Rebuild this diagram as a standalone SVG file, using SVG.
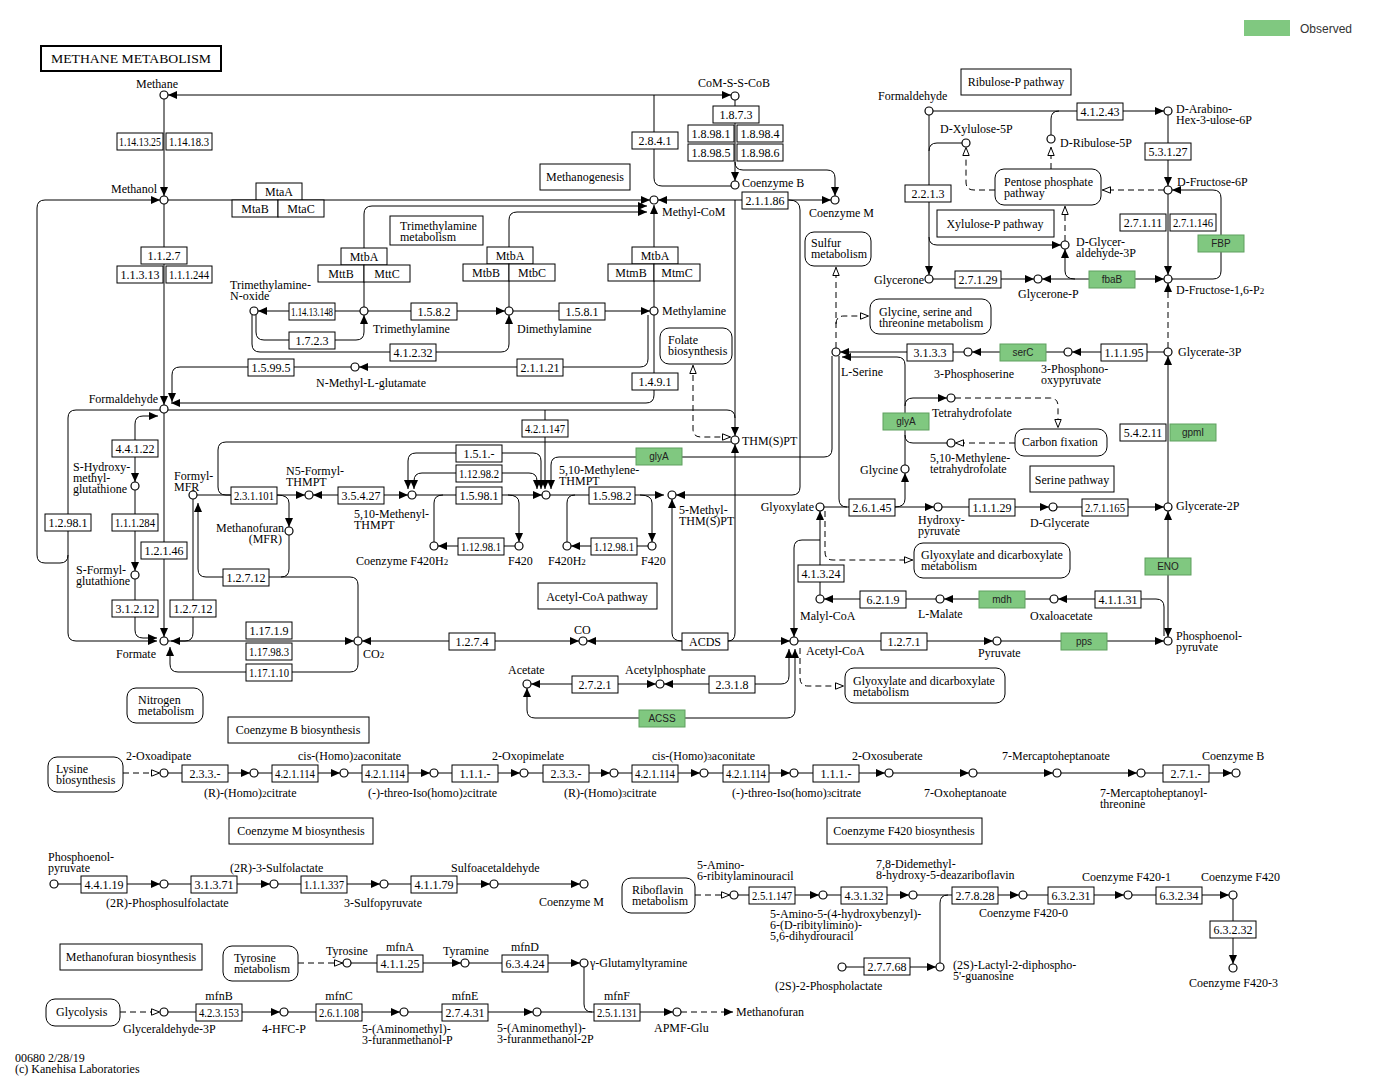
<svg xmlns="http://www.w3.org/2000/svg" width="1384" height="1080" viewBox="0 0 1384 1080">
<defs>
<marker id="fa" viewBox="0 0 9 8" refX="9" refY="4" markerWidth="9" markerHeight="8" markerUnits="userSpaceOnUse" orient="auto-start-reverse"><path d="M0,0 L9,4 L0,8 z" fill="#000"/></marker>
<marker id="oa" viewBox="0 0 9 8" refX="9" refY="4" markerWidth="9" markerHeight="8" markerUnits="userSpaceOnUse" orient="auto-start-reverse"><path d="M0.5,0.8 L8.5,4 L0.5,7.2 z" fill="#fff" stroke="#000" stroke-width="1"/></marker>
</defs>
<style>
text{font-family:"Liberation Serif","Times New Roman",serif;font-size:12px;fill:#000}
.e rect{fill:#fff;stroke:#000;stroke-width:1}
.e text{text-anchor:middle}
.g rect{fill:#80c880;stroke:#5f9f5f;stroke-width:1}
.g text{font-family:"Liberation Sans",Arial,sans-serif;font-size:10px;fill:#222;text-anchor:middle}
.c circle{fill:#fff;stroke:#000;stroke-width:1.2}
.m rect{fill:#fff;stroke:#000;stroke-width:1}
.w path{fill:none;stroke:#000;stroke-width:1}
.a{marker-end:url(#fa)}
.b{marker-start:url(#fa);marker-end:url(#fa)}
.o{marker-end:url(#oa)}
.ob{marker-start:url(#oa);marker-end:url(#oa)}
.d{stroke-dasharray:6,4}
.sb{font-size:9px}
</style>
<rect width="1384" height="1080" fill="#fff"/>
<g id="title"><rect x="41" y="46" width="180" height="25" fill="#fff" stroke="#000" stroke-width="2"/><text x="131" y="63" text-anchor="middle" font-size="13" textLength="160" lengthAdjust="spacingAndGlyphs">METHANE METABOLISM</text></g>
<g id="legend"><rect x="1244" y="20" width="46" height="16" fill="#80c880"/><text x="1300" y="33" style="font-family:'Liberation Sans',Arial,sans-serif;font-size:12px;fill:#333">Observed</text></g>

<g id="connectors" class="w">
<path class="b" d="M168,95 H731"/>
<path d="M654,95 V178 Q654,186 662,186 H731"/>
<path class="a" d="M164,99 V196"/>
<path class="a" d="M164,204 V405"/>
<path class="a" d="M168,200 H650"/>
<path class="a" d="M68,555 Q68,563 60,563 H45 Q37,563 37,555 V208 Q37,200 45,200 H160"/>
<path class="a" d="M164,413 V637"/>
<path class="a" d="M160,410 H76 Q68,410 68,418 V633 Q68,641 76,641 H157"/>
<path class="b" d="M158,416 H143 Q135,416 135,424 V482"/>
<path class="a" d="M135,490 V571"/>
<path class="a" d="M135,579 V630 Q135,638 143,638 H157"/>
<path class="a" d="M193,499 V633 Q193,641 185,641 H171"/>
<path class="a" d="M358,637 V585 Q358,577 350,577 H206 Q198,577 198,569 V503"/>
<path d="M281,577 Q289,577 289,569 V535"/>
<path class="a" d="M358,645 V664 Q358,672 350,672 H178 Q170,672 170,664 V647"/>
<path class="a" d="M168,641 H354"/>
<path class="b" d="M362,641 H579"/>
<path class="b" d="M587,641 H790"/>
<path class="a" d="M682,641 Q672,641 672,633 V499"/>
<path class="a" d="M728,641 Q735,641 735,633 V444"/>
<path class="a" d="M735,200 V436"/>
<path d="M168,410 H727 Q735,410 735,418"/>
<path class="a" d="M545,410 V489"/>
<path class="a" d="M654,315 V395 Q654,403 646,403 H171"/>
<path class="a" d="M351,367 H180 Q172,367 172,375 V402"/>
<path class="a" d="M648,315 V359 Q648,367 640,367 H359"/>
<path class="a" d="M360,311 H258"/>
<path class="a" d="M256,315 V332 Q256,340 264,340 H356 Q364,340 364,332 V315"/>
<path class="a" d="M252,315 V344 Q252,352 260,352 H501 Q509,352 509,344 V315"/>
<path class="a" d="M368,311 H505"/>
<path class="a" d="M513,311 H650"/>
<path class="a" d="M364,307 V214 Q364,206 372,206 H647"/>
<path class="a" d="M509,307 V220 Q509,212 517,212 H647"/>
<path class="a" d="M654,307 V205"/>
<path class="a" d="M735,100 V181"/>
<path class="a" d="M735,162 Q735,170 743,170 H827 Q835,170 835,178 V196"/>
<path class="b" d="M658,200 H831"/>
<path class="a" d="M789,200 Q800,200 800,210 V487 Q800,495 792,495 H676"/>
<path class="ob d" d="M693,365 V429 Q693,437 701,437 H731"/>
<path class="a" d="M197,495 H305"/>
<path class="a" d="M277,495 Q289,495 289,503 V527"/>
<path d="M231,495 H226 Q218,495 218,487 V450 Q218,442 226,442 H731"/>
<path class="b" d="M313,495 H408"/>
<path class="a" d="M416,495 H542"/>
<path d="M443,495 Q434,495 434,503 V542"/>
<path class="a" d="M508,495 Q519,495 519,503 V542"/>
<path class="a" d="M515,546 H438"/>
<path class="a" d="M456,453 H416 Q408,453 408,461 V489"/>
<path class="a" d="M502,453 H533 Q541,453 541,461 V489"/>
<path class="a" d="M456,473 H422 Q414,473 414,481 V489"/>
<path class="a" d="M502,473 H529 Q537,473 537,481 V489"/>
<path class="a" d="M832,356 V449 Q832,457 824,457 H559 Q551,457 551,465 V489"/>
<path class="a" d="M550,495 H664"/>
<path d="M575,495 Q567,495 567,503 V542"/>
<path class="a" d="M640,495 Q652,495 652,503 V542"/>
<path class="a" d="M648,546 H571"/>
<path class="a" d="M820,595 V511"/>
<path class="a" d="M820,540 H802 Q794,540 794,548 V637"/>
<path class="a" d="M936,599 H824"/>
<path class="a" d="M1050,599 H944"/>
<path class="a" d="M1164,636 V607 Q1164,599 1156,599 H1058"/>
<path class="a" d="M1001,641 H1164"/>
<path class="a" d="M798,641 H993"/>
<path class="b" d="M1168,637 V511"/>
<path class="a" d="M1168,503 V356"/>
<path class="a" d="M1057,507 H1164"/>
<path class="a" d="M942,507 H1049"/>
<path class="a" d="M824,507 H934"/>
<path d="M839,356 V499 Q839,507 847,507"/>
<path class="a" d="M895,507 Q905,507 905,499 V473"/>
<path class="o d" d="M825,511 V552 Q825,560 833,560 H913"/>
<path class="o d" d="M800,648 V678 Q800,686 808,686 H844"/>
<path class="b" d="M664,684 H781 Q789,684 789,676 V649"/>
<path class="b" d="M531,684 H656"/>
<path class="b" d="M527,688 V710 Q527,718 535,718 H787 Q795,718 795,710 V649"/>
<path class="a" d="M964,352 H840"/>
<path class="a" d="M1064,352 H972"/>
<path class="a" d="M1164,352 H1072"/>
<path class="a" d="M905,465 V365 Q905,357 897,357 H842"/>
<path class="a" d="M905,406 Q905,398 913,398 H947"/>
<path d="M905,435 Q905,443 913,443 H947"/>
<path class="o d" d="M955,398 H1050 Q1058,398 1058,406 V428"/>
<path class="o d" d="M1015,443 H955"/>
<path class="o d" d="M836,348 V267"/>
<path class="o d" d="M836,324 Q836,316 844,316 H869"/>
<path class="a d" d="M1168,348 V283"/>
<path class="b" d="M1042,279 H1164"/>
<path class="a" d="M1075,279 Q1065,279 1065,271 V249"/>
<path class="a" d="M933,279 H1034"/>
<path class="a" d="M929,115 V275"/>
<path d="M962,143 H937 Q929,143 929,151"/>
<path class="a" d="M929,237 Q929,245 937,245 H1061"/>
<path class="a" d="M933,111 H1164"/>
<path d="M1051,135 V119 Q1051,111 1059,111"/>
<path class="a" d="M1168,115 V186"/>
<path class="a" d="M1168,194 V275"/>
<path class="a" d="M1172,279 H1213 Q1221,279 1221,271 V198 Q1221,190 1213,190 H1172"/>
<path class="o d" d="M1164,190 H1102"/>
<path class="o d" d="M1065,241 V206"/>
<path class="o d" d="M1051,169 V147"/>
<path class="o d" d="M995,190 H974 Q966,190 966,182 V147"/>
<path class="o d" d="M123,773 H160"/>
<path class="a" d="M168,773 H250"/><path class="a" d="M258,773 H340"/><path class="a" d="M348,773 H430"/><path class="a" d="M438,773 H520"/><path class="a" d="M528,773 H610"/><path class="a" d="M618,773 H700"/><path class="a" d="M708,773 H790"/><path class="a" d="M798,773 H885"/><path class="a" d="M893,773 H969"/><path class="a" d="M977,773 H1053"/><path class="a" d="M1061,773 H1137"/><path class="a" d="M1145,773 H1232"/>
<path class="a" d="M58,884 H160"/><path class="a" d="M168,884 H270"/><path class="a" d="M278,884 H380"/><path class="a" d="M388,884 H490"/><path class="a" d="M498,884 H580"/>
<path class="o d" d="M298,963 H343"/>
<path class="a" d="M351,963 H461"/><path class="a" d="M469,963 H580"/>
<path class="o d" d="M120,1012 H160"/>
<path class="a" d="M168,1012 H280"/><path class="a" d="M288,1012 H400"/><path class="a" d="M408,1012 H533"/><path class="a" d="M541,1012 H673"/>
<path d="M584,967 V1004 Q584,1012 592,1012"/>
<path class="a d" d="M681,1012 H733"/>
<path class="o d" d="M695,895 H730"/>
<path class="a" d="M738,895 H819"/><path class="a" d="M827,895 H909"/><path class="a" d="M917,895 H1019"/><path class="a" d="M1027,895 H1124"/><path class="a" d="M1132,895 H1229"/>
<path class="a" d="M1233,899 V964"/>
<path class="a" d="M846,967 H936"/>
<path d="M940,963 V903 Q940,895 948,895"/>
</g>

<g id="maps">
<g id="m-methanogenesis" class="m"><rect x="540" y="164" width="90" height="26"/><text x="585" y="181" text-anchor="middle">Methanogenesis</text></g>
<g id="m-tma" class="m"><rect x="390" y="216" width="93" height="29"/><text x="400" y="230">Trimethylamine</text><text x="400" y="241">metabolism</text></g>
<g id="m-folate" class="m"><rect x="660" y="328" width="72" height="36" rx="9"/><text x="668" y="344">Folate</text><text x="668" y="355">biosynthesis</text></g>
<g id="m-sulfur" class="m"><rect x="805" y="232" width="66" height="34" rx="9"/><text x="811" y="247">Sulfur</text><text x="811" y="258">metabolism</text></g>
<g id="m-gly" class="m"><rect x="870" y="299" width="121" height="35" rx="9"/><text x="879" y="316">Glycine, serine and</text><text x="879" y="327">threonine metabolism</text></g>
<g id="m-ribulose" class="m"><rect x="961" y="69" width="110" height="26"/><text x="1016" y="86" text-anchor="middle">Ribulose-P pathway</text></g>
<g id="m-ppp" class="m"><rect x="995" y="169" width="106" height="36" rx="9"/><text x="1004" y="186">Pentose phosphate</text><text x="1004" y="197">pathway</text></g>
<g id="m-xylulose" class="m"><rect x="937" y="210" width="117" height="27"/><text x="995" y="228" text-anchor="middle">Xylulose-P pathway</text></g>
<g id="m-carbon" class="m"><rect x="1015" y="429" width="92" height="27" rx="9"/><text x="1022" y="446">Carbon fixation</text></g>
<g id="m-serine" class="m"><rect x="1030" y="466" width="84" height="26"/><text x="1072" y="484" text-anchor="middle">Serine pathway</text></g>
<g id="m-glyox1" class="m"><rect x="914" y="543" width="156" height="35" rx="9"/><text x="921" y="559">Glyoxylate and dicarboxylate</text><text x="921" y="570">metabolism</text></g>
<g id="m-glyox2" class="m"><rect x="845" y="668" width="160" height="35" rx="9"/><text x="853" y="685">Glyoxylate and dicarboxylate</text><text x="853" y="696">metabolism</text></g>
<g id="m-acetylcoa" class="m"><rect x="538" y="583" width="119" height="26"/><text x="597" y="601" text-anchor="middle">Acetyl-CoA pathway</text></g>
<g id="m-nitrogen" class="m"><rect x="127" y="688" width="76" height="35" rx="9"/><text x="138" y="704">Nitrogen</text><text x="138" y="715">metabolism</text></g>
<g id="m-cobbio" class="m"><rect x="228" y="717" width="141" height="26"/><text x="298" y="734" text-anchor="middle">Coenzyme B biosynthesis</text></g>
<g id="m-lysine" class="m"><rect x="48" y="757" width="75" height="35" rx="9"/><text x="56" y="773">Lysine</text><text x="56" y="784">biosynthesis</text></g>
<g id="m-combio" class="m"><rect x="229" y="818" width="144" height="26"/><text x="301" y="835" text-anchor="middle">Coenzyme M biosynthesis</text></g>
<g id="m-mfrbio" class="m"><rect x="60" y="944" width="142" height="26"/><text x="131" y="961" text-anchor="middle">Methanofuran biosynthesis</text></g>
<g id="m-tyrosine" class="m"><rect x="223" y="946" width="75" height="35" rx="9"/><text x="234" y="962">Tyrosine</text><text x="234" y="973">metabolism</text></g>
<g id="m-glycolysis" class="m"><rect x="46" y="999" width="74" height="27" rx="9"/><text x="56" y="1016">Glycolysis</text></g>
<g id="m-f420bio" class="m"><rect x="827" y="818" width="155" height="26"/><text x="904" y="835" text-anchor="middle">Coenzyme F420 biosynthesis</text></g>
<g id="m-riboflavin" class="m"><rect x="622" y="878" width="73" height="35" rx="9"/><text x="632" y="894">Riboflavin</text><text x="632" y="905">metabolism</text></g>
</g>

<g id="enzymes">
<g id="e1" class="e"><rect x="117" y="133" width="46" height="17"/><text x="140" y="146" textLength="42" lengthAdjust="spacingAndGlyphs">1.14.13.25</text></g>
<g id="e2" class="e"><rect x="166" y="133" width="46" height="17"/><text x="189" y="146" textLength="40" lengthAdjust="spacingAndGlyphs">1.14.18.3</text></g>
<g id="e3" class="e"><rect x="141" y="247" width="46" height="17"/><text x="164" y="260">1.1.2.7</text></g>
<g id="e4" class="e"><rect x="117" y="266" width="46" height="17"/><text x="140" y="279">1.1.3.13</text></g>
<g id="e5" class="e"><rect x="166" y="266" width="46" height="17"/><text x="189" y="279" textLength="40" lengthAdjust="spacingAndGlyphs">1.1.1.244</text></g>
<g id="e-mtaa" class="e"><rect x="256" y="183" width="46" height="17"/><text x="279" y="196">MtaA</text></g>
<g id="e-mtab" class="e"><rect x="232" y="200" width="46" height="17"/><text x="255" y="213">MtaB</text></g>
<g id="e-mtac" class="e"><rect x="278" y="200" width="46" height="17"/><text x="301" y="213">MtaC</text></g>
<g id="e6" class="e"><rect x="632" y="132" width="46" height="17"/><text x="655" y="145">2.8.4.1</text></g>
<g id="e7" class="e"><rect x="713" y="106" width="46" height="17"/><text x="736" y="119">1.8.7.3</text></g>
<g id="e8" class="e"><rect x="688" y="125" width="46" height="17"/><text x="711" y="138">1.8.98.1</text></g>
<g id="e9" class="e"><rect x="737" y="125" width="46" height="17"/><text x="760" y="138">1.8.98.4</text></g>
<g id="e10" class="e"><rect x="688" y="144" width="46" height="17"/><text x="711" y="157">1.8.98.5</text></g>
<g id="e11" class="e"><rect x="737" y="144" width="46" height="17"/><text x="760" y="157">1.8.98.6</text></g>
<g id="e12" class="e"><rect x="742" y="192" width="46" height="17"/><text x="765" y="205">2.1.1.86</text></g>
<g id="e-mtba1" class="e"><rect x="341" y="248" width="46" height="17"/><text x="364" y="261">MtbA</text></g>
<g id="e-mttb" class="e"><rect x="318" y="265" width="46" height="17"/><text x="341" y="278">MttB</text></g>
<g id="e-mttc" class="e"><rect x="364" y="265" width="46" height="17"/><text x="387" y="278">MttC</text></g>
<g id="e-mtba2" class="e"><rect x="487" y="247" width="46" height="17"/><text x="510" y="260">MtbA</text></g>
<g id="e-mtbb" class="e"><rect x="463" y="264" width="46" height="17"/><text x="486" y="277">MtbB</text></g>
<g id="e-mtbc" class="e"><rect x="509" y="264" width="46" height="17"/><text x="532" y="277">MtbC</text></g>
<g id="e-mtba3" class="e"><rect x="632" y="247" width="46" height="17"/><text x="655" y="260">MtbA</text></g>
<g id="e-mtmb" class="e"><rect x="608" y="264" width="46" height="17"/><text x="631" y="277">MtmB</text></g>
<g id="e-mtmc" class="e"><rect x="654" y="264" width="46" height="17"/><text x="677" y="277">MtmC</text></g>
<g id="e13" class="e"><rect x="289" y="303" width="46" height="17"/><text x="312" y="316" textLength="42" lengthAdjust="spacingAndGlyphs">1.14.13.148</text></g>
<g id="e14" class="e"><rect x="411" y="303" width="46" height="17"/><text x="434" y="316">1.5.8.2</text></g>
<g id="e15" class="e"><rect x="559" y="303" width="46" height="17"/><text x="582" y="316">1.5.8.1</text></g>
<g id="e16" class="e"><rect x="289" y="332" width="46" height="17"/><text x="312" y="345">1.7.2.3</text></g>
<g id="e17" class="e"><rect x="390" y="344" width="46" height="17"/><text x="413" y="357">4.1.2.32</text></g>
<g id="e18" class="e"><rect x="248" y="359" width="46" height="17"/><text x="271" y="372">1.5.99.5</text></g>
<g id="e19" class="e"><rect x="517" y="359" width="46" height="17"/><text x="540" y="372">2.1.1.21</text></g>
<g id="e20" class="e"><rect x="632" y="373" width="46" height="17"/><text x="655" y="386">1.4.9.1</text></g>
<g id="e21" class="e"><rect x="112" y="440" width="46" height="17"/><text x="135" y="453">4.4.1.22</text></g>
<g id="e22" class="e"><rect x="112" y="514" width="46" height="17"/><text x="135" y="527" textLength="40" lengthAdjust="spacingAndGlyphs">1.1.1.284</text></g>
<g id="e23" class="e"><rect x="45" y="514" width="46" height="17"/><text x="68" y="527">1.2.98.1</text></g>
<g id="e24" class="e"><rect x="141" y="542" width="46" height="17"/><text x="164" y="555">1.2.1.46</text></g>
<g id="e25" class="e"><rect x="112" y="600" width="46" height="17"/><text x="135" y="613">3.1.2.12</text></g>
<g id="e26" class="e"><rect x="170" y="600" width="46" height="17"/><text x="193" y="613">1.2.7.12</text></g>
<g id="e27" class="e"><rect x="231" y="487" width="46" height="17"/><text x="254" y="500" textLength="40" lengthAdjust="spacingAndGlyphs">2.3.1.101</text></g>
<g id="e28" class="e"><rect x="223" y="569" width="46" height="17"/><text x="246" y="582">1.2.7.12</text></g>
<g id="e29" class="e"><rect x="338" y="487" width="46" height="17"/><text x="361" y="500">3.5.4.27</text></g>
<g id="e30" class="e"><rect x="522" y="420" width="46" height="17"/><text x="545" y="433" textLength="40" lengthAdjust="spacingAndGlyphs">4.2.1.147</text></g>
<g id="e31" class="e"><rect x="456" y="445" width="46" height="17"/><text x="479" y="458">1.5.1.-</text></g>
<g id="e32" class="e"><rect x="456" y="465" width="46" height="17"/><text x="479" y="478" textLength="40" lengthAdjust="spacingAndGlyphs">1.12.98.2</text></g>
<g id="e33" class="e"><rect x="456" y="487" width="46" height="17"/><text x="479" y="500">1.5.98.1</text></g>
<g id="e34" class="e"><rect x="589" y="487" width="46" height="17"/><text x="612" y="500">1.5.98.2</text></g>
<g id="e35" class="e"><rect x="458" y="538" width="46" height="17"/><text x="481" y="551" textLength="40" lengthAdjust="spacingAndGlyphs">1.12.98.1</text></g>
<g id="e36" class="e"><rect x="591" y="538" width="46" height="17"/><text x="614" y="551" textLength="40" lengthAdjust="spacingAndGlyphs">1.12.98.1</text></g>
<g id="g-glya1" class="g"><rect x="636" y="448" width="46" height="17"/><text x="659" y="460">glyA</text></g>
<g id="e37" class="e"><rect x="246" y="622" width="46" height="17"/><text x="269" y="635">1.17.1.9</text></g>
<g id="e38" class="e"><rect x="246" y="643" width="46" height="17"/><text x="269" y="656" textLength="40" lengthAdjust="spacingAndGlyphs">1.17.98.3</text></g>
<g id="e39" class="e"><rect x="246" y="664" width="46" height="17"/><text x="269" y="677" textLength="40" lengthAdjust="spacingAndGlyphs">1.17.1.10</text></g>
<g id="e40" class="e"><rect x="449" y="633" width="46" height="17"/><text x="472" y="646">1.2.7.4</text></g>
<g id="e41" class="e"><rect x="682" y="633" width="46" height="17"/><text x="705" y="646">ACDS</text></g>
<g id="e42" class="e"><rect x="572" y="676" width="46" height="17"/><text x="595" y="689">2.7.2.1</text></g>
<g id="e43" class="e"><rect x="709" y="676" width="46" height="17"/><text x="732" y="689">2.3.1.8</text></g>
<g id="g-acss" class="g"><rect x="639" y="710" width="46" height="17"/><text x="662" y="722">ACSS</text></g>
<g id="e44" class="e"><rect x="849" y="499" width="46" height="17"/><text x="872" y="512">2.6.1.45</text></g>
<g id="e45" class="e"><rect x="969" y="499" width="46" height="17"/><text x="992" y="512">1.1.1.29</text></g>
<g id="e46" class="e"><rect x="1082" y="499" width="46" height="17"/><text x="1105" y="512" textLength="40" lengthAdjust="spacingAndGlyphs">2.7.1.165</text></g>
<g id="g-glya2" class="g"><rect x="883" y="413" width="46" height="17"/><text x="906" y="425">glyA</text></g>
<g id="e47" class="e"><rect x="907" y="344" width="46" height="17"/><text x="930" y="357">3.1.3.3</text></g>
<g id="g-serc" class="g"><rect x="1000" y="344" width="46" height="17"/><text x="1023" y="356">serC</text></g>
<g id="e48" class="e"><rect x="1101" y="344" width="46" height="17"/><text x="1124" y="357">1.1.1.95</text></g>
<g id="e49" class="e"><rect x="1120" y="424" width="46" height="17"/><text x="1143" y="437">5.4.2.11</text></g>
<g id="g-gpmi" class="g"><rect x="1170" y="424" width="46" height="17"/><text x="1193" y="436">gpmI</text></g>
<g id="g-eno" class="g"><rect x="1145" y="558" width="46" height="17"/><text x="1168" y="570">ENO</text></g>
<g id="e50" class="e"><rect x="1095" y="591" width="46" height="17"/><text x="1118" y="604">4.1.1.31</text></g>
<g id="g-mdh" class="g"><rect x="979" y="591" width="46" height="17"/><text x="1002" y="603">mdh</text></g>
<g id="e51" class="e"><rect x="860" y="591" width="46" height="17"/><text x="883" y="604">6.2.1.9</text></g>
<g id="e52" class="e"><rect x="798" y="565" width="46" height="17"/><text x="821" y="578">4.1.3.24</text></g>
<g id="e53" class="e"><rect x="881" y="633" width="46" height="17"/><text x="904" y="646">1.2.7.1</text></g>
<g id="g-pps" class="g"><rect x="1061" y="633" width="46" height="17"/><text x="1084" y="645">pps</text></g>
<g id="e54" class="e"><rect x="1077" y="103" width="46" height="17"/><text x="1100" y="116">4.1.2.43</text></g>
<g id="e55" class="e"><rect x="1145" y="143" width="46" height="17"/><text x="1168" y="156">5.3.1.27</text></g>
<g id="e56" class="e"><rect x="905" y="185" width="46" height="17"/><text x="928" y="198">2.2.1.3</text></g>
<g id="e57" class="e"><rect x="1120" y="214" width="46" height="17"/><text x="1143" y="227">2.7.1.11</text></g>
<g id="e58" class="e"><rect x="1170" y="214" width="46" height="17"/><text x="1193" y="227" textLength="40" lengthAdjust="spacingAndGlyphs">2.7.1.146</text></g>
<g id="g-fbp" class="g"><rect x="1198" y="235" width="46" height="17"/><text x="1221" y="247">FBP</text></g>
<g id="g-fbab" class="g"><rect x="1089" y="271" width="46" height="17"/><text x="1112" y="283">fbaB</text></g>
<g id="e59" class="e"><rect x="955" y="271" width="46" height="17"/><text x="978" y="284">2.7.1.29</text></g>
<g id="e60" class="e"><rect x="182" y="765" width="46" height="17"/><text x="205" y="778">2.3.3.-</text></g>
<g id="e61" class="e"><rect x="272" y="765" width="46" height="17"/><text x="295" y="778" textLength="40" lengthAdjust="spacingAndGlyphs">4.2.1.114</text></g>
<g id="e62" class="e"><rect x="362" y="765" width="46" height="17"/><text x="385" y="778" textLength="40" lengthAdjust="spacingAndGlyphs">4.2.1.114</text></g>
<g id="e63" class="e"><rect x="452" y="765" width="46" height="17"/><text x="475" y="778">1.1.1.-</text></g>
<g id="e64" class="e"><rect x="543" y="765" width="46" height="17"/><text x="566" y="778">2.3.3.-</text></g>
<g id="e65" class="e"><rect x="632" y="765" width="46" height="17"/><text x="655" y="778" textLength="40" lengthAdjust="spacingAndGlyphs">4.2.1.114</text></g>
<g id="e66" class="e"><rect x="723" y="765" width="46" height="17"/><text x="746" y="778" textLength="40" lengthAdjust="spacingAndGlyphs">4.2.1.114</text></g>
<g id="e67" class="e"><rect x="813" y="765" width="46" height="17"/><text x="836" y="778">1.1.1.-</text></g>
<g id="e68" class="e"><rect x="1163" y="765" width="46" height="17"/><text x="1186" y="778">2.7.1.-</text></g>
<g id="e69" class="e"><rect x="81" y="876" width="46" height="17"/><text x="104" y="889">4.4.1.19</text></g>
<g id="e70" class="e"><rect x="191" y="876" width="46" height="17"/><text x="214" y="889">3.1.3.71</text></g>
<g id="e71" class="e"><rect x="301" y="876" width="46" height="17"/><text x="324" y="889" textLength="40" lengthAdjust="spacingAndGlyphs">1.1.1.337</text></g>
<g id="e72" class="e"><rect x="411" y="876" width="46" height="17"/><text x="434" y="889">4.1.1.79</text></g>
<g id="e73" class="e"><rect x="377" y="955" width="46" height="17"/><text x="400" y="968">4.1.1.25</text><text x="400" y="951">mfnA</text></g>
<g id="e74" class="e"><rect x="502" y="955" width="46" height="17"/><text x="525" y="968">6.3.4.24</text><text x="525" y="951">mfnD</text></g>
<g id="e75" class="e"><rect x="196" y="1004" width="46" height="17"/><text x="219" y="1017" textLength="40" lengthAdjust="spacingAndGlyphs">4.2.3.153</text><text x="219" y="1000">mfnB</text></g>
<g id="e76" class="e"><rect x="316" y="1004" width="46" height="17"/><text x="339" y="1017" textLength="40" lengthAdjust="spacingAndGlyphs">2.6.1.108</text><text x="339" y="1000">mfnC</text></g>
<g id="e77" class="e"><rect x="442" y="1004" width="46" height="17"/><text x="465" y="1017">2.7.4.31</text><text x="465" y="1000">mfnE</text></g>
<g id="e78" class="e"><rect x="594" y="1004" width="46" height="17"/><text x="617" y="1017" textLength="40" lengthAdjust="spacingAndGlyphs">2.5.1.131</text><text x="617" y="1000">mfnF</text></g>
<g id="e79" class="e"><rect x="749" y="887" width="46" height="17"/><text x="772" y="900" textLength="40" lengthAdjust="spacingAndGlyphs">2.5.1.147</text></g>
<g id="e80" class="e"><rect x="841" y="887" width="46" height="17"/><text x="864" y="900">4.3.1.32</text></g>
<g id="e81" class="e"><rect x="952" y="887" width="46" height="17"/><text x="975" y="900">2.7.8.28</text></g>
<g id="e82" class="e"><rect x="1048" y="887" width="46" height="17"/><text x="1071" y="900">6.3.2.31</text></g>
<g id="e83" class="e"><rect x="1156" y="887" width="46" height="17"/><text x="1179" y="900">6.3.2.34</text></g>
<g id="e84" class="e"><rect x="1210" y="921" width="46" height="17"/><text x="1233" y="934">6.3.2.32</text></g>
<g id="e85" class="e"><rect x="864" y="958" width="46" height="17"/><text x="887" y="971">2.7.7.68</text></g>
</g>

<g id="compounds">
<g id="c-methane" class="c"><circle cx="164" cy="95" r="4"/><text x="136" y="88">Methane</text></g>
<g id="c-methanol" class="c"><circle cx="164" cy="200" r="4"/><text x="157" y="193" text-anchor="end">Methanol</text></g>
<g id="c-formaldehyde" class="c"><circle cx="164" cy="409" r="4"/><text x="158" y="403" text-anchor="end">Formaldehyde</text></g>
<g id="c-formate" class="c"><circle cx="164" cy="641" r="4"/><text x="116" y="658">Formate</text></g>
<g id="c-shmg" class="c"><circle cx="135" cy="486" r="4"/><text x="73" y="471">S-Hydroxy-</text><text x="73" y="482">methyl-</text><text x="73" y="493">glutathione</text></g>
<g id="c-sfg" class="c"><circle cx="135" cy="575" r="4"/><text x="76" y="574">S-Formyl-</text><text x="76" y="585">glutathione</text></g>
<g id="c-tmao" class="c"><circle cx="254" cy="311" r="4"/><text x="230" y="289">Trimethylamine-</text><text x="230" y="300">N-oxide</text></g>
<g id="c-tma" class="c"><circle cx="364" cy="311" r="4"/><text x="373" y="333">Trimethylamine</text></g>
<g id="c-dma" class="c"><circle cx="509" cy="311" r="4"/><text x="517" y="333">Dimethylamine</text></g>
<g id="c-ma" class="c"><circle cx="654" cy="311" r="4"/><text x="662" y="315">Methylamine</text></g>
<g id="c-nmg" class="c"><circle cx="355" cy="367" r="4"/><text x="316" y="387">N-Methyl-L-glutamate</text></g>
<g id="c-methylcom" class="c"><circle cx="654" cy="200" r="4"/><text x="662" y="216">Methyl-CoM</text></g>
<g id="c-comsscob" class="c"><circle cx="735" cy="96" r="4"/><text x="698" y="87">CoM-S-S-CoB</text></g>
<g id="c-cob" class="c"><circle cx="735" cy="185" r="4"/><text x="742" y="187">Coenzyme B</text></g>
<g id="c-com" class="c"><circle cx="835" cy="200" r="4"/><text x="809" y="217">Coenzyme M</text></g>
<g id="c-thmspt" class="c"><circle cx="735" cy="440" r="4"/><text x="742" y="445">THM(S)PT</text></g>
<g id="c-formylmfr" class="c"><circle cx="193" cy="495" r="4"/><text x="174" y="480">Formyl-</text><text x="174" y="491">MFR</text></g>
<g id="c-n5f" class="c"><circle cx="309" cy="495" r="4"/><text x="286" y="475">N5-Formyl-</text><text x="286" y="486">THMPT</text></g>
<g id="c-mfr" class="c"><circle cx="289" cy="531" r="4"/><text x="284" y="532" text-anchor="end">Methanofuran</text><text x="282" y="543" text-anchor="end">(MFR)</text></g>
<g id="c-methenyl" class="c"><circle cx="412" cy="495" r="4"/><text x="354" y="518">5,10-Methenyl-</text><text x="354" y="529">THMPT</text></g>
<g id="c-methylene" class="c"><circle cx="546" cy="495" r="4"/><text x="559" y="474">5,10-Methylene-</text><text x="559" y="485">THMPT</text></g>
<g id="c-5methyl" class="c"><circle cx="672" cy="495" r="4"/><text x="679" y="514">5-Methyl-</text><text x="679" y="525">THM(S)PT</text></g>
<g id="c-f420h2a" class="c"><circle cx="434" cy="546" r="4"/><text x="356" y="565">Coenzyme F420H<tspan class="sb">2</tspan></text></g>
<g id="c-f420a" class="c"><circle cx="519" cy="546" r="4"/><text x="508" y="565">F420</text></g>
<g id="c-f420h2b" class="c"><circle cx="567" cy="546" r="4"/><text x="548" y="565">F420H<tspan class="sb">2</tspan></text></g>
<g id="c-f420b" class="c"><circle cx="652" cy="546" r="4"/><text x="641" y="565">F420</text></g>
<g id="c-co2" class="c"><circle cx="358" cy="641" r="4"/><text x="363" y="658">CO<tspan class="sb">2</tspan></text></g>
<g id="c-co" class="c"><circle cx="583" cy="641" r="4"/><text x="574" y="634">CO</text></g>
<g id="c-acetylcoa" class="c"><circle cx="794" cy="641" r="4"/><text x="806" y="655">Acetyl-CoA</text></g>
<g id="c-acetate" class="c"><circle cx="527" cy="684" r="4"/><text x="508" y="674">Acetate</text></g>
<g id="c-acetylp" class="c"><circle cx="660" cy="684" r="4"/><text x="625" y="674">Acetylphosphate</text></g>
<g id="c-malylcoa" class="c"><circle cx="820" cy="599" r="4"/><text x="800" y="620">Malyl-CoA</text></g>
<g id="c-lmalate" class="c"><circle cx="940" cy="599" r="4"/><text x="918" y="618">L-Malate</text></g>
<g id="c-oaa" class="c"><circle cx="1054" cy="599" r="4"/><text x="1030" y="620">Oxaloacetate</text></g>
<g id="c-pyruvate" class="c"><circle cx="997" cy="641" r="4"/><text x="978" y="657">Pyruvate</text></g>
<g id="c-pep" class="c"><circle cx="1168" cy="641" r="4"/><text x="1176" y="640">Phosphoenol-</text><text x="1176" y="651">pyruvate</text></g>
<g id="c-glyoxylate" class="c"><circle cx="820" cy="507" r="4"/><text x="814" y="511" text-anchor="end">Glyoxylate</text></g>
<g id="c-hp" class="c"><circle cx="938" cy="507" r="4"/><text x="918" y="524">Hydroxy-</text><text x="918" y="535">pyruvate</text></g>
<g id="c-dglycerate" class="c"><circle cx="1053" cy="507" r="4"/><text x="1030" y="527">D-Glycerate</text></g>
<g id="c-g2p" class="c"><circle cx="1168" cy="507" r="4"/><text x="1176" y="510">Glycerate-2P</text></g>
<g id="c-g3p" class="c"><circle cx="1168" cy="352" r="4"/><text x="1178" y="356">Glycerate-3P</text></g>
<g id="c-lserine" class="c"><circle cx="836" cy="352" r="4"/><text x="841" y="376">L-Serine</text></g>
<g id="c-pser" class="c"><circle cx="968" cy="352" r="4"/><text x="934" y="378">3-Phosphoserine</text></g>
<g id="c-php" class="c"><circle cx="1068" cy="352" r="4"/><text x="1041" y="373">3-Phosphono-</text><text x="1041" y="384">oxypyruvate</text></g>
<g id="c-thf" class="c"><circle cx="951" cy="398" r="4"/><text x="932" y="417">Tetrahydrofolate</text></g>
<g id="c-mthf" class="c"><circle cx="951" cy="443" r="4"/><text x="930" y="462">5,10-Methylene-</text><text x="930" y="473">tetrahydrofolate</text></g>
<g id="c-glycine" class="c"><circle cx="905" cy="469" r="4"/><text x="898" y="474" text-anchor="end">Glycine</text></g>
<g id="c-formaldehyde2" class="c"><circle cx="929" cy="111" r="4"/><text x="878" y="100">Formaldehyde</text></g>
<g id="c-xu5p" class="c"><circle cx="966" cy="143" r="4"/><text x="940" y="133">D-Xylulose-5P</text></g>
<g id="c-ru5p" class="c"><circle cx="1051" cy="139" r="4"/><text x="1060" y="147">D-Ribulose-5P</text></g>
<g id="c-hu6p" class="c"><circle cx="1168" cy="111" r="4"/><text x="1176" y="113">D-Arabino-</text><text x="1176" y="124">Hex-3-ulose-6P</text></g>
<g id="c-f6p" class="c"><circle cx="1168" cy="190" r="4"/><text x="1177" y="186">D-Fructose-6P</text></g>
<g id="c-fbp" class="c"><circle cx="1168" cy="279" r="4"/><text x="1176" y="294">D-Fructose-1,6-P<tspan class="sb">2</tspan></text></g>
<g id="c-gap" class="c"><circle cx="1065" cy="245" r="4"/><text x="1076" y="246">D-Glycer-</text><text x="1076" y="257">aldehyde-3P</text></g>
<g id="c-glycerone" class="c"><circle cx="929" cy="279" r="4"/><text x="924" y="284" text-anchor="end">Glycerone</text></g>
<g id="c-glyceronep" class="c"><circle cx="1038" cy="279" r="4"/><text x="1018" y="298">Glycerone-P</text></g>

<g id="c-b1" class="c"><circle cx="164" cy="773" r="4"/><text x="126" y="760">2-Oxoadipate</text></g>
<g id="c-b2" class="c"><circle cx="254" cy="773" r="4"/><text x="204" y="797">(R)-(Homo)<tspan class="sb">2</tspan>citrate</text></g>
<g id="c-b3" class="c"><circle cx="344" cy="773" r="4"/><text x="298" y="760">cis-(Homo)<tspan class="sb">2</tspan>aconitate</text></g>
<g id="c-b4" class="c"><circle cx="434" cy="773" r="4"/><text x="368" y="797">(-)-threo-Iso(homo)<tspan class="sb">2</tspan>citrate</text></g>
<g id="c-b5" class="c"><circle cx="524" cy="773" r="4"/><text x="492" y="760">2-Oxopimelate</text></g>
<g id="c-b6" class="c"><circle cx="614" cy="773" r="4"/><text x="564" y="797">(R)-(Homo)<tspan class="sb">3</tspan>citrate</text></g>
<g id="c-b7" class="c"><circle cx="704" cy="773" r="4"/><text x="652" y="760">cis-(Homo)<tspan class="sb">3</tspan>aconitate</text></g>
<g id="c-b8" class="c"><circle cx="794" cy="773" r="4"/><text x="732" y="797">(-)-threo-Iso(homo)<tspan class="sb">3</tspan>citrate</text></g>
<g id="c-b9" class="c"><circle cx="889" cy="773" r="4"/><text x="852" y="760">2-Oxosuberate</text></g>
<g id="c-b10" class="c"><circle cx="973" cy="773" r="4"/><text x="924" y="797">7-Oxoheptanoate</text></g>
<g id="c-b11" class="c"><circle cx="1057" cy="773" r="4"/><text x="1002" y="760">7-Mercaptoheptanoate</text></g>
<g id="c-b12" class="c"><circle cx="1141" cy="773" r="4"/><text x="1100" y="797">7-Mercaptoheptanoyl-</text><text x="1100" y="808">threonine</text></g>
<g id="c-b13" class="c"><circle cx="1236" cy="773" r="4"/><text x="1202" y="760">Coenzyme B</text></g>

<g id="c-m1" class="c"><circle cx="54" cy="884" r="4"/><text x="48" y="861">Phosphoenol-</text><text x="48" y="872">pyruvate</text></g>
<g id="c-m2" class="c"><circle cx="164" cy="884" r="4"/><text x="106" y="907">(2R)-Phosphosulfolactate</text></g>
<g id="c-m3" class="c"><circle cx="274" cy="884" r="4"/><text x="230" y="872">(2R)-3-Sulfolactate</text></g>
<g id="c-m4" class="c"><circle cx="384" cy="884" r="4"/><text x="344" y="907">3-Sulfopyruvate</text></g>
<g id="c-m5" class="c"><circle cx="494" cy="884" r="4"/><text x="451" y="872">Sulfoacetaldehyde</text></g>
<g id="c-m6" class="c"><circle cx="584" cy="884" r="4"/><text x="539" y="906">Coenzyme M</text></g>

<g id="c-t1" class="c"><circle cx="347" cy="963" r="4"/><text x="326" y="955">Tyrosine</text></g>
<g id="c-t2" class="c"><circle cx="465" cy="963" r="4"/><text x="443" y="955">Tyramine</text></g>
<g id="c-t3" class="c"><circle cx="584" cy="963" r="4"/><text x="590" y="967">γ-Glutamyltyramine</text></g>
<g id="c-t4" class="c"><circle cx="164" cy="1012" r="4"/><text x="123" y="1033">Glyceraldehyde-3P</text></g>
<g id="c-t5" class="c"><circle cx="284" cy="1012" r="4"/><text x="262" y="1033">4-HFC-P</text></g>
<g id="c-t6" class="c"><circle cx="404" cy="1012" r="4"/><text x="362" y="1033">5-(Aminomethyl)-</text><text x="362" y="1044">3-furanmethanol-P</text></g>
<g id="c-t7" class="c"><circle cx="537" cy="1012" r="4"/><text x="497" y="1032">5-(Aminomethyl)-</text><text x="497" y="1043">3-furanmethanol-2P</text></g>
<g id="c-t8" class="c"><circle cx="677" cy="1012" r="4"/><text x="654" y="1032">APMF-Glu</text></g>
<g id="c-t9"><text x="736" y="1016">Methanofuran</text></g>

<g id="c-f1" class="c"><circle cx="734" cy="895" r="4"/><text x="697" y="869">5-Amino-</text><text x="697" y="880">6-ribitylaminouracil</text></g>
<g id="c-f2" class="c"><circle cx="823" cy="895" r="4"/><text x="770" y="918">5-Amino-5-(4-hydroxybenzyl)-</text><text x="770" y="929">6-(D-ribitylimino)-</text><text x="770" y="940">5,6-dihydrouracil</text></g>
<g id="c-f3" class="c"><circle cx="913" cy="895" r="4"/><text x="876" y="868">7,8-Didemethyl-</text><text x="876" y="879">8-hydroxy-5-deazariboflavin</text></g>
<g id="c-f4" class="c"><circle cx="1023" cy="895" r="4"/><text x="979" y="917">Coenzyme F420-0</text></g>
<g id="c-f5" class="c"><circle cx="1128" cy="895" r="4"/><text x="1082" y="881">Coenzyme F420-1</text></g>
<g id="c-f6" class="c"><circle cx="1233" cy="895" r="4"/><text x="1201" y="881">Coenzyme F420</text></g>
<g id="c-f7" class="c"><circle cx="1233" cy="968" r="4"/><text x="1189" y="987">Coenzyme F420-3</text></g>
<g id="c-f8" class="c"><circle cx="842" cy="967" r="4"/><text x="775" y="990">(2S)-2-Phospholactate</text></g>
<g id="c-f9" class="c"><circle cx="940" cy="967" r="4"/><text x="953" y="969">(2S)-Lactyl-2-diphospho-</text><text x="953" y="980">5'-guanosine</text></g>
</g>

<g id="footer"><text x="15" y="1062">00680 2/28/19</text><text x="15" y="1073">(c) Kanehisa Laboratories</text></g>
</svg>
